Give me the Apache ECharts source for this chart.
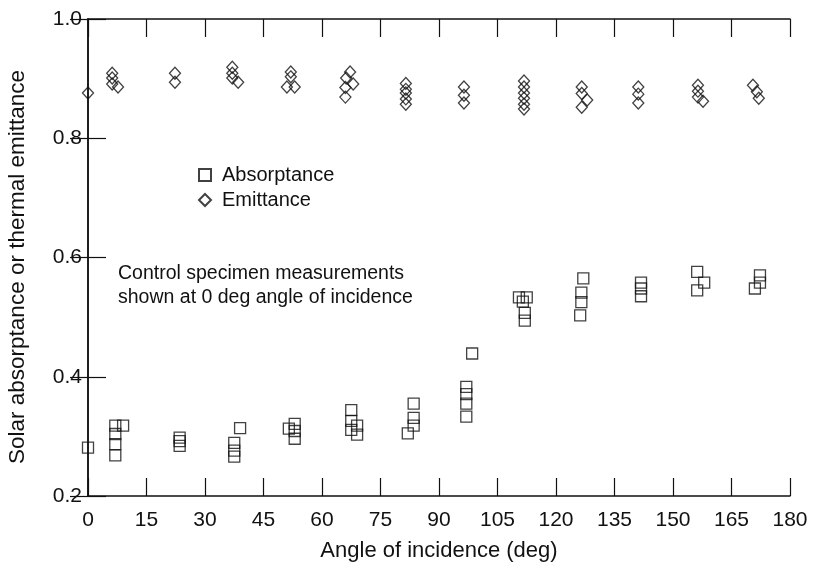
<!DOCTYPE html>
<html>
<head>
<meta charset="utf-8">
<script src="https://cdn.jsdelivr.net/npm/echarts@6/dist/echarts.min.js"></script>
<style>html,body{margin:0;padding:0;background:#fff}#c{width:813px;height:563px}</style>
</head>
<body>
<div id="c"></div>
<script>
// Absorptance measurements: [angle (deg), value]
const absorptanceAngles = [0, 7, 9, 7, 7, 7, 23.5, 23.5, 23.5, 39, 37.5, 37.5, 37.5, 53, 51.5, 53, 53, 67.5, 67.5, 69, 67.5, 69, 83.5, 83.5, 83.5, 82, 97, 97, 97, 97, 98.5, 110.5, 112.5, 111.5, 112, 112, 127, 126.5, 126.5, 126.2, 141.8, 141.8, 141.8, 156.2, 158, 156.2, 172.3, 172.3, 171];
const absorptanceValues = [0.281, 0.318, 0.318, 0.304, 0.287, 0.268, 0.298, 0.292, 0.284, 0.314, 0.289, 0.276, 0.266, 0.321, 0.313, 0.309, 0.296, 0.344, 0.326, 0.318, 0.311, 0.303, 0.355, 0.331, 0.318, 0.305, 0.383, 0.371, 0.355, 0.333, 0.439, 0.533, 0.533, 0.526, 0.507, 0.494, 0.565, 0.541, 0.525, 0.503, 0.558, 0.548, 0.535, 0.576, 0.558, 0.545, 0.57, 0.558, 0.548];
// Emittance measurements: [angle (deg), value]
const emittanceAngles = [0, 6.2, 6.2, 6.2, 7.7, 22.3, 22.3, 37, 37, 37, 38.5, 52, 52, 51, 53, 67.2, 66.2, 68, 66, 66, 81.5, 81.5, 81.5, 81.5, 81.5, 96.4, 96.4, 96.4, 111.8, 111.8, 111.8, 111.8, 111.8, 111.8, 126.6, 126.6, 128, 126.6, 141.1, 141.1, 141.1, 156.4, 156.4, 156.4, 157.7, 170.5, 171.5, 172];
const emittanceValues = [0.876, 0.909, 0.901, 0.891, 0.886, 0.909, 0.894, 0.919, 0.909, 0.901, 0.894, 0.911, 0.903, 0.886, 0.886, 0.911, 0.901, 0.891, 0.885, 0.869, 0.892, 0.882, 0.876, 0.866, 0.857, 0.886, 0.872, 0.859, 0.896, 0.886, 0.876, 0.867, 0.857, 0.849, 0.886, 0.875, 0.864, 0.852, 0.886, 0.874, 0.859, 0.889, 0.879, 0.869, 0.862, 0.889, 0.878, 0.867];
const xTicks = [0, 15, 30, 45, 60, 75, 90, 105, 120, 135, 150, 165, 180];
const yTicks = [0.2, 0.4, 0.6, 0.8, 1.0];
const seriesNames = ['Absorptance', 'Emittance'];
const noteLines = ['Control specimen measurements', 'shown at 0 deg angle of incidence'];
const xTitle = 'Angle of incidence (deg)';
const yTitle = 'Solar absorptance or thermal emittance';

const FONT = "'Liberation Sans', Arial, Helvetica, sans-serif";
const zip = (a, b) => a.map((v, i) => [v, b[i]]);
const chart = echarts.init(document.getElementById('c'), null, {renderer: 'canvas'});
const tick = {show: true, inside: true, length: 18, lineStyle: {color: '#111', width: 1.2}};
const line = {show: true, lineStyle: {color: '#111', width: 1.5}};
const markStyle = {color: 'rgba(0,0,0,0)', borderColor: '#111', borderWidth: 1.3};
chart.setOption({
  animation: false,
  backgroundColor: '#fff',
  textStyle: {fontFamily: FONT, color: '#111'},
  grid: {left: 88, right: 23, top: 19, bottom: 67, outerBoundsMode: 'none', containLabel: false},
  legend: {
    orient: 'vertical', left: 193, top: 160, itemGap: 5, itemWidth: 12, itemHeight: 12,
    data: seriesNames,
    textStyle: {fontFamily: FONT, fontSize: 20, color: '#111', padding: [0, 0, 0, 6]}
  },
  xAxis: [{
    type: 'value', min: xTicks[0], max: xTicks[xTicks.length - 1], interval: 15,
    axisLine: line, axisTick: tick, splitLine: {show: false},
    axisLabel: {fontFamily: FONT, fontSize: 21, color: '#111', margin: 14},
    name: xTitle, nameLocation: 'middle', nameGap: 44,
    nameTextStyle: {fontFamily: FONT, fontSize: 22, color: '#111'}
  }, {
    type: 'value', position: 'top', min: xTicks[0], max: xTicks[xTicks.length - 1], interval: 15,
    axisLine: line, axisTick: tick, axisLabel: {show: false}, splitLine: {show: false}
  }],
  yAxis: [{
    type: 'value', min: yTicks[0], max: yTicks[yTicks.length - 1], interval: 0.2,
    axisLine: line, axisTick: tick, splitLine: {show: false},
    axisLabel: {fontFamily: FONT, fontSize: 21, color: '#111', margin: 6, formatter: v => v.toFixed(1)}
  }, {
    type: 'value', position: 'right', min: yTicks[0], max: yTicks[yTicks.length - 1], interval: 0.2,
    axisLine: line, axisTick: tick, axisLabel: {show: false}, splitLine: {show: false}
  }],
  graphic: [{
    type: 'text', left: 118, top: 262,
    style: {text: noteLines.join('\n'), font: '19.5px ' + FONT, fill: '#111', lineHeight: 24}
  }, {
    type: 'text', x: 18, y: 267, rotation: Math.PI / 2,
    style: {text: yTitle, font: '22.5px ' + FONT, fill: '#111', align: 'center', verticalAlign: 'middle'}
  }],
  series: [{
    name: seriesNames[0], type: 'scatter', symbol: 'rect', symbolSize: 11,
    itemStyle: markStyle, data: zip(absorptanceAngles, absorptanceValues)
  }, {
    name: seriesNames[1], type: 'scatter', symbol: 'diamond', symbolSize: [11, 12],
    itemStyle: markStyle, data: zip(emittanceAngles, emittanceValues)
  }]
});
</script>
</body>
</html>
